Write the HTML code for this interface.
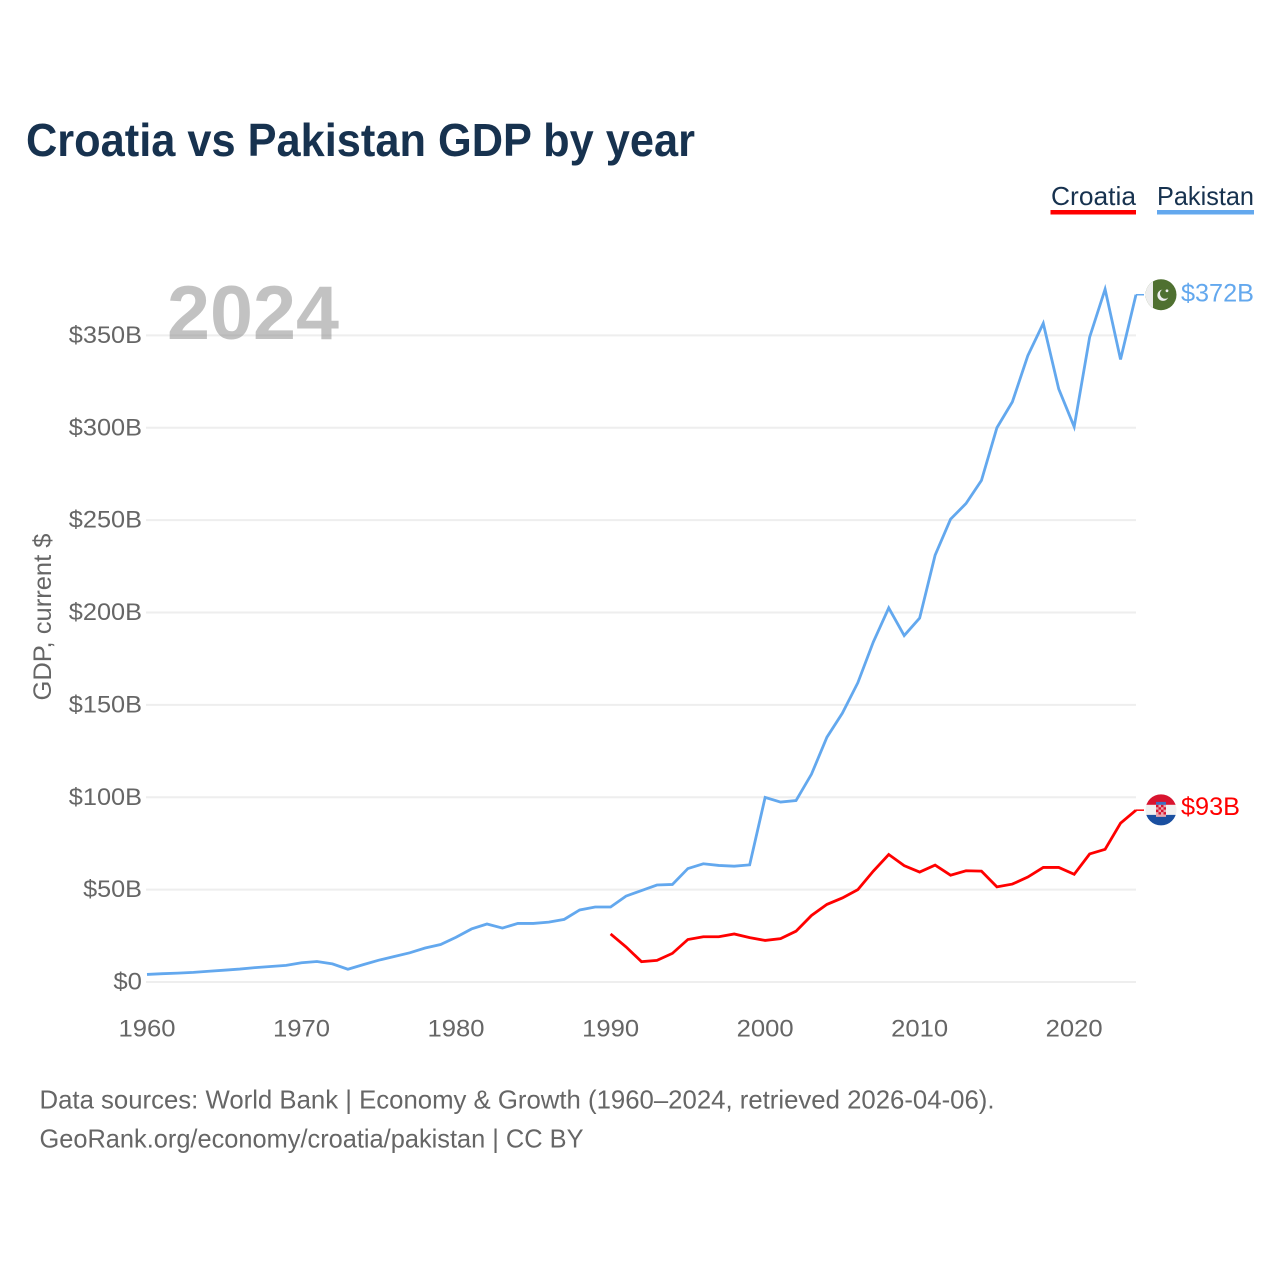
<!DOCTYPE html>
<html lang="en">
<head>
<meta charset="utf-8">
<title>Croatia vs Pakistan GDP by year</title>
<style>
html,body{margin:0;padding:0;background:#fff;}
svg{display:block;font-family:"Liberation Sans",sans-serif;}
</style>
</head>
<body>
<svg id="chart" xmlns="http://www.w3.org/2000/svg" width="1280" height="1280" viewBox="0 0 1280 1280">
  <defs>
    <clipPath id="clip-flag-pk"><circle id="clip-pk" r="15.5"></circle></clipPath>
    <clipPath id="clip-flag-hr"><circle id="clip-hr" r="15.5"></circle></clipPath>
  </defs>
  <rect width="1280" height="1280" fill="#ffffff"></rect>
  <text x="26" y="156" font-size="46" font-weight="700" fill="#17324f" textLength="669" lengthAdjust="spacingAndGlyphs">Croatia vs Pakistan GDP by year</text>

  <g>
    <text x="1051" y="205" font-size="26" fill="#17324f" textLength="85" lengthAdjust="spacingAndGlyphs">Croatia</text>
    <rect x="1050.5" y="210" width="85.5" height="4.5" fill="#ff0000"></rect>
  </g>
  <g>
    <text x="1157" y="205" font-size="26" fill="#17324f" textLength="97" lengthAdjust="spacingAndGlyphs">Pakistan</text>
    <rect x="1157" y="210" width="97" height="4.5" fill="#63a8ee"></rect>
  </g>

  <g id="grid"></g>
  <text x="167" y="339" font-size="76" font-weight="700" fill="#858585" fill-opacity="0.5" textLength="172" lengthAdjust="spacingAndGlyphs">2024</text>
  <g id="y-ticks"></g>
  <g id="x-ticks"></g>
  <text transform="translate(51,617) rotate(-90)" text-anchor="middle" font-size="25" fill="#666666" textLength="167" lengthAdjust="spacingAndGlyphs">GDP, current $</text>

  <g id="series"></g>

  <g id="flag-pk">
    <g clip-path="url(#clip-flag-pk)">
      <g id="flag-pk-art">
        <rect x="-16" y="-16" width="32" height="32" fill="#4f7030"></rect>
        <rect x="-16" y="-16" width="8" height="32" fill="#eeeeee"></rect>
        <circle cx="2" cy="0.5" r="5.6" fill="#eeeeee"></circle>
        <circle cx="4" cy="-1" r="5" fill="#4f7030"></circle>
        <circle cx="6" cy="-4" r="1.4" fill="#eeeeee"></circle>
      </g>
    </g>
  </g>
  <g id="flag-hr">
    <g clip-path="url(#clip-flag-hr)">
      <g id="flag-hr-art">
        <rect x="-16" y="-16" width="32" height="11" fill="#d8142f"></rect>
        <rect x="-16" y="-5" width="32" height="10" fill="#f1f1f1"></rect>
        <rect x="-16" y="5" width="32" height="11" fill="#1a4fa0"></rect>
        <rect x="-5" y="-8" width="10" height="3" fill="#3f6fc0"></rect>
        <rect x="-5" y="-5" width="10" height="12" fill="#e9a5ad"></rect>
        <path d="M-5-5h2.5v2.4h-2.5zM0-5h2.5v2.4H0zM-2.5-2.6H0V-.2h-2.5zM2.5-2.6H5V-.2H2.5zM-5-.2h2.5v2.4H-5zM0-.2h2.5v2.4H0zM-2.5 2.2H0v2.4h-2.5zM2.5 2.2H5v2.4H2.5z" fill="#d8142f"></path>
      </g>
    </g>
  </g>

  <g id="end-labels"></g>

  <text x="39.5" y="1108.5" font-size="26" fill="#666666" textLength="955" lengthAdjust="spacingAndGlyphs">Data sources: World Bank | Economy &amp; Growth (1960–2024, retrieved 2026-04-06).</text>
  <text x="39.5" y="1147.5" font-size="26" fill="#666666" textLength="544" lengthAdjust="spacingAndGlyphs">GeoRank.org/economy/croatia/pakistan | CC BY</text>
</svg>

<script>
var xTickYears = [1960, 1970, 1980, 1990, 2000, 2010, 2020];
var yTickValues = [0, 50, 100, 150, 200, 250, 300, 350];
var yTickLabels = ["$0", "$50B", "$100B", "$150B", "$200B", "$250B", "$300B", "$350B"];
var pakistanStartYear = 1960;
var pakistanValues = [
  4.1, 4.5, 4.8, 5.2, 5.8, 6.4, 7.0, 7.8, 8.4, 9.0,
  10.4, 11.1, 9.8, 6.9, 9.4, 11.8, 13.8, 15.8, 18.4, 20.3,
  24.2, 28.7, 31.4, 29.2, 31.7, 31.7, 32.4, 33.9, 39.0, 40.6,
  40.6, 46.5, 49.5, 52.5, 52.8, 61.4, 64.0, 63.1, 62.7, 63.4,
  99.9, 97.4, 98.2, 112.5, 132.5, 145.5, 162, 184, 202.5, 187.5,
  197, 231, 250.5, 259, 271.5, 300, 314, 339, 356.5, 321,
  300.5, 349, 375, 337, 372
];
var croatiaStartYear = 1990;
var croatiaValues = [
  26, 19, 11, 11.7, 15.5, 23, 24.5, 24.5, 26, 24,
  22.5, 23.5, 27.5, 36, 42, 45.5, 50, 60, 69, 63,
  59.5, 63.3, 57.8, 60.2, 60, 51.5, 53, 56.8, 62, 62,
  58.3, 69.3, 71.8, 86, 93
];
var pakistanEndLabel = "$372B";
var croatiaEndLabel = "$93B";

var SVG_NS = "http://www.w3.org/2000/svg";
function xScale(year) { return 147 + (year - 1960) * 15.453; }
function yScale(value) { return 982 - value * 1.8475; }
function make(tag, attrs, parent, text) {
  var el = document.createElementNS(SVG_NS, tag);
  for (var k in attrs) { el.setAttribute(k, attrs[k]); }
  if (text !== undefined) { el.textContent = text; }
  parent.appendChild(el);
  return el;
}

var grid = document.getElementById("grid");
var yTicks = document.getElementById("y-ticks");
yTickValues.forEach(function (v, i) {
  var y = yScale(v);
  var line = make("line", { x1: 146, x2: 1136, y1: y, y2: y, stroke: "#eeeeee", "stroke-width": 2 }, grid);
  
  
  var label = yTickLabels[i];
  var hasB = label.indexOf("B") >= 0;
  var width = (label.length - (hasB ? 1 : 0)) * 14.3 + (hasB ? 16 : 0);
  var t = make("text", { x: 142, y: y + 7.5, "text-anchor": "end", "font-size": 24.5, fill: "#666666", textLength: width, lengthAdjust: "spacingAndGlyphs" }, yTicks, label);
  
  
});

var xTicks = document.getElementById("x-ticks");
xTickYears.forEach(function (year) {
  var t = make("text", { x: xScale(year), y: 1036.5, "text-anchor": "middle", "font-size": 24.5, fill: "#666666", textLength: 57, lengthAdjust: "spacingAndGlyphs" }, xTicks, String(year));
  
  
});

function linePoints(startYear, values) {
  return values.map(function (v, i) {
    return xScale(startYear + i).toFixed(2) + "," + yScale(v).toFixed(2);
  }).join(" ");
}
var seriesGroup = document.getElementById("series");
var pakistanLine = make("polyline", { points: linePoints(pakistanStartYear, pakistanValues), fill: "none", stroke: "#63a8ee", "stroke-width": 2.8, "stroke-linejoin": "miter" }, seriesGroup);


var croatiaLine = make("polyline", { points: linePoints(croatiaStartYear, croatiaValues), fill: "none", stroke: "#ff0000", "stroke-width": 2.8, "stroke-linejoin": "miter" }, seriesGroup);



var pkEndY = yScale(pakistanValues[pakistanValues.length - 1]);
var hrEndY = yScale(croatiaValues[croatiaValues.length - 1]);
var endX = xScale(2024);

var pkLeader = make("line", { x1: endX, x2: endX + 8, y1: pkEndY, y2: pkEndY, stroke: "#63a8ee", "stroke-width": 1.5 }, seriesGroup);


var hrLeader = make("line", { x1: endX, x2: endX + 8, y1: hrEndY, y2: hrEndY, stroke: "#ff0000", "stroke-width": 1.5 }, seriesGroup);



function placeFlag(clipId, artId, cx, cy) {
  var c = document.getElementById(clipId);
  c.setAttribute("cx", cx);
  c.setAttribute("cy", cy);
  document.getElementById(artId).setAttribute("transform", "translate(" + cx + "," + cy + ")");
}
placeFlag("clip-pk", "flag-pk-art", endX + 25, pkEndY);
placeFlag("clip-hr", "flag-hr-art", endX + 25, hrEndY - 0.3);

var endLabels = document.getElementById("end-labels");
var pkLabel = make("text", { x: endX + 45, y: pkEndY + 7, "font-size": 25, fill: "#63a8ee", textLength: 73, lengthAdjust: "spacingAndGlyphs" }, endLabels, pakistanEndLabel);


var hrLabel = make("text", { x: endX + 45, y: hrEndY + 5, "font-size": 25, fill: "#ff0000", textLength: 59, lengthAdjust: "spacingAndGlyphs" }, endLabels, croatiaEndLabel);


</script>
</body>
</html>
